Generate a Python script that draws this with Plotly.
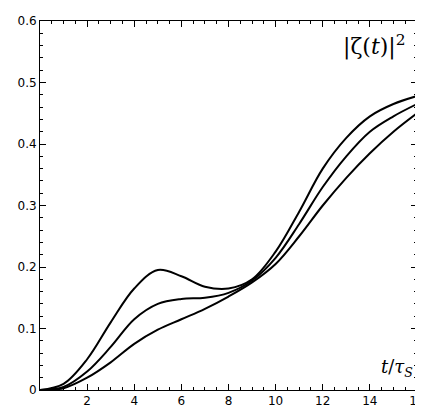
import plotly.graph_objects as go

x = [0,1,2,3,4,5,6,7,8,9,10,11,12,13,14,15,16]
c1 = [0,0.01,0.05,0.11,0.165,0.195,0.185,0.168,0.165,0.18,0.225,0.29,0.36,0.41,0.445,0.465,0.478]
c2 = [0,0.005,0.03,0.07,0.115,0.14,0.148,0.15,0.158,0.178,0.215,0.27,0.33,0.38,0.42,0.445,0.465]
c3 = [0,0.003,0.02,0.045,0.075,0.098,0.115,0.132,0.152,0.175,0.205,0.25,0.3,0.345,0.385,0.42,0.45]
xticks = [2,4,6,8,10,12,14,16]

fig = go.Figure()
for c in (c1, c2, c3):
    fig.add_trace(go.Scatter(x=x, y=c, mode="lines", line=dict(color="black", width=2, shape="spline", smoothing=1.0)))

ax = dict(showgrid=False, zeroline=False, showline=True, linecolor="black", linewidth=1,
          mirror="allticks", ticks="inside", ticklen=6, tickcolor="black",
          tickfont=dict(family="DejaVu Sans", size=12, color="black"),
          minor=dict(ticks="inside", ticklen=3, tickcolor="black"))
fig.update_layout(
    width=423, height=408, paper_bgcolor="white", plot_bgcolor="white", showlegend=False,
    margin=dict(l=32, r=12, t=6, b=26),
    xaxis=dict(ax, range=[0, 16], tickvals=xticks, minor=dict(ax["minor"], dtick=0.5)),
    yaxis=dict(ax, range=[0, 0.6], dtick=0.1, minor=dict(ax["minor"], dtick=0.02)),
    annotations=[
        dict(x=15.6, y=0.56, xref="x", yref="y", text="|ζ(<i>t</i>)|<sup>2</sup>", showarrow=False,
             xanchor="right", font=dict(family="DejaVu Serif", size=22, color="black")),
        dict(x=15.9, y=0.035, xref="x", yref="y", text="<i>t</i>/<i>τ</i><sub><i>S</i></sub>", showarrow=False,
             xanchor="right", font=dict(family="DejaVu Serif", size=18, color="black")),
    ],
)
fig.write_html("out.html")
